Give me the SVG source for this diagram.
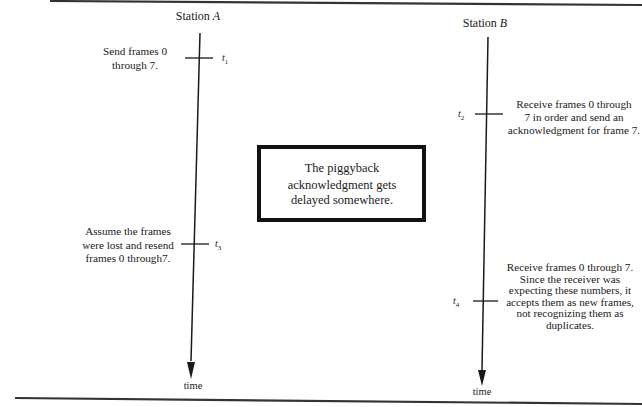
<svg xmlns="http://www.w3.org/2000/svg" width="642" height="407" viewBox="0 0 642 407">
  <style>
    text { font-family: "Liberation Serif", "Times New Roman", serif; fill: #1a1a1a; }
    .lbl { font-size: 11.2px; text-anchor: middle; }
    .hdr { font-size: 12px; text-anchor: middle; }
    .box { font-size: 12.5px; text-anchor: middle; }
    .tm { font-size: 10px; font-style: italic; }
    .sub { font-size: 7px; font-style: normal; }
    .axis { stroke: #1a1a1a; stroke-width: 1.5; fill: none; }
    .tick { stroke: #1a1a1a; stroke-width: 1.3; }
    .rule { stroke: #333; stroke-width: 2.2; fill: none; }
  </style>
  <defs>
    <marker id="arrow" viewBox="0 0 8 16" refX="4" refY="15" markerWidth="8" markerHeight="16" markerUnits="userSpaceOnUse" orient="auto-start-reverse">
      <path d="M0,0 L8,0 L4,16 Z" fill="#1a1a1a"/>
    </marker>
  </defs>

  <!-- page rules -->
  <path class="rule" d="M50,1 L642,5"/>
  <path class="rule" d="M15,398 L642,404"/>

  <!-- time axes -->
  <g id="connectors">
    <path class="axis" d="M200,33 L191,361" transform="rotate(0)"/>
    <path class="axis" d="M488,37 L482,370"/>
    <path d="M187,362 L195,362 L191,379 Z" fill="#1a1a1a"/>
    <path d="M478,370 L486,370 L482,386 Z" fill="#1a1a1a"/>
  </g>

  <g id="stationA">
    <text class="hdr" x="198" y="20">Station <tspan font-style="italic">A</tspan></text>
    <text class="lbl" x="193" y="389" style="font-size:10.5px">time</text>
  </g>

  <g id="stationB">
    <text class="hdr" x="485" y="27">Station <tspan font-style="italic">B</tspan></text>
    <text class="lbl" x="482" y="395" style="font-size:10.5px">time</text>
  </g>

  <!-- events on A -->
  <g id="t1">
    <line class="tick" x1="185" y1="58" x2="213" y2="58"/>
    <text class="tm" x="222" y="61">t<tspan class="sub" dy="3">1</tspan></text>
    <text class="lbl" x="135" y="55">Send frames 0</text>
    <text class="lbl" x="135" y="69">through 7.</text>
  </g>

  <g id="t3">
    <line class="tick" x1="181" y1="244" x2="209" y2="244"/>
    <text class="tm" x="215" y="247">t<tspan class="sub" dy="3">3</tspan></text>
    <text class="lbl" x="128" y="235">Assume the frames</text>
    <text class="lbl" x="128" y="248.5">were lost and resend</text>
    <text class="lbl" x="128" y="262">frames 0 through7.</text>
  </g>

  <!-- events on B -->
  <g id="t2">
    <line class="tick" x1="475" y1="114" x2="503" y2="114"/>
    <text class="tm" x="458" y="117">t<tspan class="sub" dy="3">2</tspan></text>
    <text class="lbl" x="574" y="108">Receive frames 0 through</text>
    <text class="lbl" x="574" y="121">7 in order and send an</text>
    <text class="lbl" x="574" y="134">acknowledgment for frame 7.</text>
  </g>

  <g id="t4">
    <line class="tick" x1="473" y1="301" x2="498" y2="301"/>
    <text class="tm" x="453" y="304">t<tspan class="sub" dy="3">4</tspan></text>
    <text class="lbl" x="570" y="271">Receive frames 0 through 7.</text>
    <text class="lbl" x="570" y="282.5">Since the receiver was</text>
    <text class="lbl" x="570" y="294">expecting these numbers, it</text>
    <text class="lbl" x="570" y="305.5">accepts them as new frames,</text>
    <text class="lbl" x="570" y="317">not recognizing them as</text>
    <text class="lbl" x="570" y="328.5">duplicates.</text>
  </g>

  <!-- note box -->
  <g id="note">
    <rect x="259" y="147" width="165" height="73" fill="#fff" stroke="#111" stroke-width="4"/>
    <text class="box" x="342" y="172">The piggyback</text>
    <text class="box" x="342" y="189">acknowledgment gets</text>
    <text class="box" x="342" y="204">delayed somewhere.</text>
  </g>
</svg>
